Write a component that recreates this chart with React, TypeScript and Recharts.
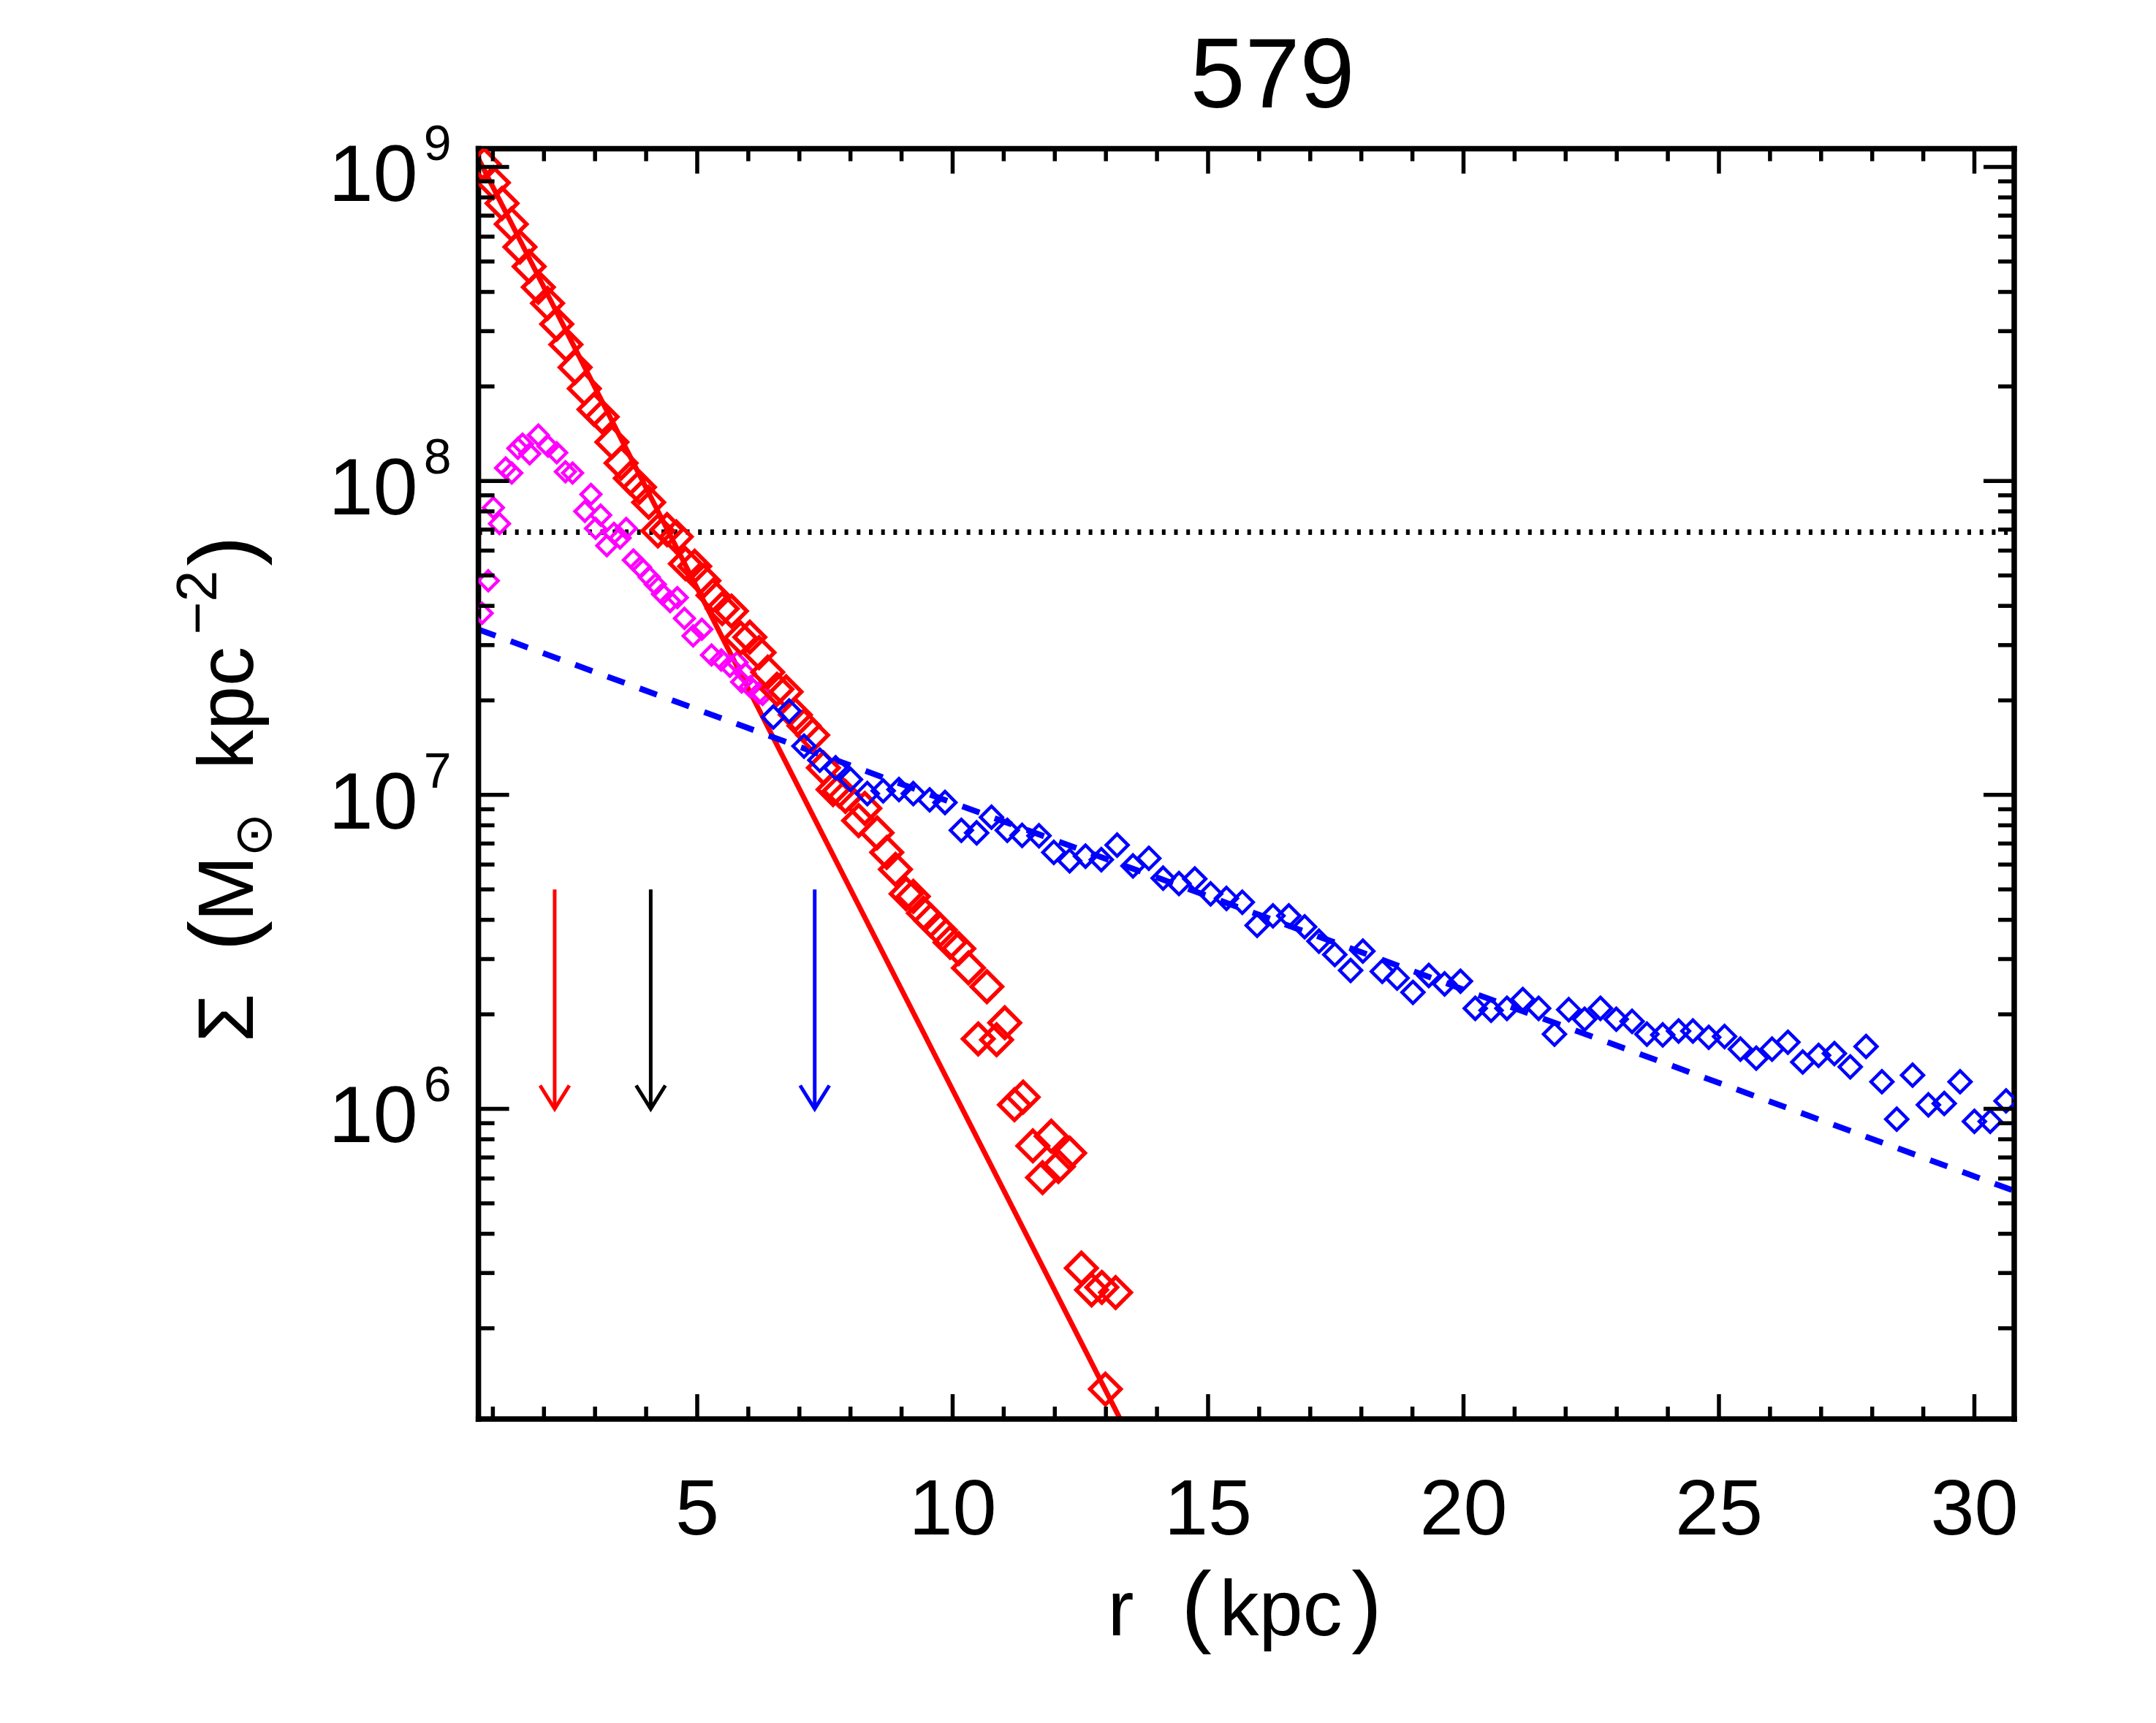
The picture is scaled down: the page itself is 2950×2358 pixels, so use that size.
import React from 'react';
import { ComposedChart, XAxis, YAxis, Scatter, Line, ReferenceLine } from 'recharts';

const W = 2934;
const H = 2342;
const FONT = '"Liberation Sans", Arial, Helvetica, sans-serif';

// ---- axes ----
const xDomain: [number, number] = [0.717, 30.78];
const yDomain: [number, number] = [1.028e5, 1.143e9];
const xTickValues = [1, 2, 3, 4, 5, 6, 7, 8, 9, 10, 11, 12, 13, 14, 15, 16, 17, 18, 19, 20, 21, 22, 23, 24, 25, 26, 27, 28, 29, 30];
const xMajorTicks = [5, 10, 15, 20, 25, 30];
const yDecades = [5, 6, 7, 8, 9];
const yMultipliers = [1, 2, 3, 4, 5, 6, 7, 8, 9];

// ---- data: red diamonds ----
const redR = [0.83, 1.01, 1.18, 1.36, 1.53, 1.71, 1.89, 2.07, 2.25, 2.43, 2.61, 2.79, 2.98, 3.14, 3.33, 3.51, 3.69, 3.87, 4.05, 4.23, 4.41, 4.59, 4.77, 4.95, 5.13, 5.31, 5.49, 5.67, 5.85, 6.03, 6.21, 6.38, 6.56, 6.74, 6.92, 7.09, 7.26, 7.47, 7.66, 7.78, 7.90, 8.16, 8.28, 8.52, 8.71, 8.88, 9.09, 9.23, 9.43, 9.57, 9.76, 9.95, 10.12, 10.31, 10.67, 10.50, 10.86, 11.02, 11.21, 11.38, 11.57, 11.76, 11.93, 12.07, 12.29, 12.52, 12.72, 12.92, 13.19, 12.99];
const redSigma = [1.02e9, 8.91e8, 7.66e8, 6.58e8, 5.56e8, 4.82e8, 4.14e8, 3.68e8, 3.16e8, 2.72e8, 2.30e8, 1.97e8, 1.69e8, 1.60e8, 1.33e8, 1.14e8, 1.02e8, 9.55e7, 8.55e7, 6.93e7, 7.00e7, 6.64e7, 5.45e7, 5.35e7, 4.81e7, 4.32e7, 3.92e7, 3.85e7, 3.16e7, 3.18e7, 2.84e7, 2.46e7, 2.17e7, 2.13e7, 1.80e7, 1.66e7, 1.55e7, 1.22e7, 1.04e7, 1.03e7, 9.89e6, 8.28e6, 9.06e6, 7.57e6, 6.56e6, 5.79e6, 4.84e6, 4.75e6, 4.20e6, 3.98e6, 3.71e6, 3.39e6, 3.24e6, 2.81e6, 2.45e6, 1.67e6, 1.66e6, 1.88e6, 1.03e6, 1.09e6, 7.62e5, 6.04e5, 8.18e5, 6.55e5, 7.23e5, 3.11e5, 2.65e5, 2.70e5, 2.60e5, 1.28e5];

// ---- data: magenta diamonds ----
const magR = [0.79, 0.91, 1.01, 1.13, 1.25, 1.37, 1.49, 1.58, 1.72, 1.89, 2.08, 2.25, 2.42, 2.56, 2.80, 2.92, 3.01, 3.11, 3.23, 3.37, 3.49, 3.61, 3.75, 3.89, 4.06, 4.18, 4.32, 4.47, 4.61, 4.75, 4.92, 5.09, 5.28, 5.47, 5.64, 5.78, 5.87, 5.94, 6.04, 6.21, 6.28];
const magSigma = [3.79e7, 4.81e7, 8.22e7, 7.31e7, 1.10e8, 1.06e8, 1.27e8, 1.31e8, 1.22e8, 1.40e8, 1.29e8, 1.23e8, 1.07e8, 1.06e8, 8.0e7, 9.06e7, 7.06e7, 7.78e7, 6.22e7, 6.81e7, 6.58e7, 7.06e7, 5.60e7, 5.31e7, 4.94e7, 4.68e7, 4.36e7, 4.13e7, 4.25e7, 3.65e7, 3.21e7, 3.37e7, 2.79e7, 2.69e7, 2.57e7, 2.64e7, 2.29e7, 2.44e7, 2.21e7, 2.11e7, 2.09e7];

// ---- data: blue diamonds ----
const blueR = [6.49, 6.80, 7.09, 7.40, 7.71, 8.00, 8.33, 8.64, 8.95, 9.23, 9.55, 9.85, 10.17, 10.47, 10.76, 11.07, 11.36, 11.69, 11.98, 12.29, 12.60, 12.91, 13.22, 13.53, 13.84, 14.12, 14.43, 14.74, 15.05, 15.36, 15.67, 15.96, 16.27, 16.58, 16.89, 17.17, 17.48, 17.79, 18.03, 18.41, 18.70, 19.01, 19.32, 19.63, 19.94, 20.23, 20.54, 20.85, 21.16, 21.47, 21.78, 22.06, 22.37, 22.68, 22.99, 23.30, 23.59, 23.90, 24.21, 24.49, 24.80, 25.11, 25.42, 25.73, 26.04, 26.35, 26.64, 26.95, 27.26, 27.57, 27.88, 28.19, 28.48, 28.79, 29.10, 29.41, 29.72, 30.00, 30.31, 30.62];
const blueSigma = [1.77e7, 1.85e7, 1.43e7, 1.29e7, 1.22e7, 1.12e7, 1.01e7, 1.03e7, 1.04e7, 1.01e7, 9.64e6, 9.46e6, 7.71e6, 7.57e6, 8.49e6, 7.71e6, 7.43e6, 7.41e6, 6.56e6, 6.17e6, 6.38e6, 6.22e6, 6.92e6, 5.94e6, 6.28e6, 5.43e6, 5.22e6, 5.40e6, 4.84e6, 4.68e6, 4.55e6, 3.84e6, 4.12e6, 4.12e6, 3.80e6, 3.42e6, 3.10e6, 2.76e6, 3.18e6, 2.74e6, 2.61e6, 2.35e6, 2.66e6, 2.50e6, 2.55e6, 2.09e6, 2.06e6, 2.09e6, 2.23e6, 2.09e6, 1.73e6, 2.07e6, 1.93e6, 2.09e6, 1.93e6, 1.90e6, 1.73e6, 1.72e6, 1.77e6, 1.77e6, 1.69e6, 1.70e6, 1.55e6, 1.45e6, 1.55e6, 1.63e6, 1.41e6, 1.48e6, 1.50e6, 1.36e6, 1.58e6, 1.22e6, 9.27e5, 1.28e6, 1.03e6, 1.04e6, 1.22e6, 9.12e5, 9.12e5, 1.06e6];

// ---- fits and markers ----
const bulgeFitR = [0.717, 13.28];
const bulgeFitSigma = [1.064e9, 1.028e5];
const diskFitR = [0.717, 30.78];
const diskFitSigma = [3.365e7, 5.48e5];
const dottedLevel = 6.87e7;
const arrowR = [2.21, 4.09, 7.30];
const arrowTop = 5.0e6;
const arrowTip = 1.0e6;
const arrowColors = ['#ff0000', '#000000', '#0000ff'];

const zip = (xs: number[], ys: number[]) =>
  xs.slice(0, Math.min(xs.length, ys.length)).map((x, i) => ({ x, y: ys[i] }));

const redData = zip(redR, redSigma);
const magData = zip(magR, magSigma);
const blueData = zip(blueR, blueSigma);
const bulgeFit = zip(bulgeFitR, bulgeFitSigma);
const diskFit = zip(diskFitR, diskFitSigma);

const yTickValues: number[] = [];
yDecades.forEach((d) => {
  yMultipliers.forEach((m) => {
    const v = m * Math.pow(10, d);
    if (v >= yDomain[0] && v <= yDomain[1]) yTickValues.push(v);
  });
});

const isMajorY = (v: number) => Math.abs(Math.log10(v) - Math.round(Math.log10(v))) < 1e-6;

const TICK_W = 5.5;

const BottomTick = (p: any) => {
  const v = p.payload?.value;
  const major = xMajorTicks.includes(v);
  return (
    <g>
      <line x1={p.x} x2={p.x} y1={p.y} y2={p.y - (major ? 34 : 17)} stroke="#000" strokeWidth={TICK_W} />
      {major ? (
        <text x={p.x} y={p.y + 158} textAnchor="middle" fontFamily={FONT} fontSize={108} fill="#000">
          {v}
        </text>
      ) : null}
    </g>
  );
};

const TopTick = (p: any) => {
  const v = p.payload?.value;
  const major = xMajorTicks.includes(v);
  return <line x1={p.x} x2={p.x} y1={p.y} y2={p.y + (major ? 34 : 17)} stroke="#000" strokeWidth={TICK_W} />;
};

const LeftTick = (p: any) => {
  const v = p.payload?.value;
  const major = isMajorY(v);
  const exp = Math.round(Math.log10(v));
  return (
    <g>
      <line x1={p.x} x2={p.x + (major ? 42 : 22)} y1={p.y} y2={p.y} stroke="#000" strokeWidth={TICK_W} />
      {major ? (
        <text x={p.x - 37} y={p.y + 46} textAnchor="end" fontFamily={FONT} fontSize={110} fill="#000">
          10
          <tspan dx={8} dy={-56} fontSize={68}>
            {exp}
          </tspan>
        </text>
      ) : null}
    </g>
  );
};

const RightTick = (p: any) => {
  const v = p.payload?.value;
  const major = isMajorY(v);
  return <line x1={p.x} x2={p.x - (major ? 42 : 22)} y1={p.y} y2={p.y} stroke="#000" strokeWidth={TICK_W} />;
};

const diamond = (color: string, r: number, sw: number) => (props: any) => {
  const { cx, cy } = props;
  if (cx == null || cy == null || isNaN(cx) || isNaN(cy)) return <g />;
  return (
    <polygon
      points={`${cx},${cy - r} ${cx + r},${cy} ${cx},${cy + r} ${cx - r},${cy}`}
      fill="none"
      stroke={color}
      strokeWidth={sw}
      strokeLinejoin="miter"
    />
  );
};

const arrowHead = (color: string) => (props: any) => {
  const { cx, cy } = props;
  if (cx == null || cy == null || isNaN(cx) || isNaN(cy)) return <g />;
  return (
    <polyline
      points={`${cx - 20},${cy - 32} ${cx},${cy} ${cx + 20},${cy - 32}`}
      fill="none"
      stroke={color}
      strokeWidth={5}
    />
  );
};

const axisLineStyle = { stroke: '#000', strokeWidth: 7.5, strokeLinecap: 'square' as const };

export default function App() {
  return (
    <div style={{ position: 'relative', width: W, height: H, background: '#fff' }}>
      <ComposedChart
        width={W}
        height={H}
        margin={{ top: 194.6, right: 185, bottom: 108, left: 6.6 }}
        style={{ background: '#fff' }}
      >
        <XAxis
          xAxisId="b"
          dataKey="x"
          type="number"
          orientation="bottom"
          domain={xDomain}
          allowDataOverflow
          ticks={xTickValues}
          interval={0}
          tickSize={0}
          tickMargin={0}
          height={300}
          axisLine={axisLineStyle}
          tickLine={false}
          tick={BottomTick}
        />
        <XAxis
          xAxisId="t"
          dataKey="x"
          type="number"
          orientation="top"
          domain={xDomain}
          allowDataOverflow
          ticks={xTickValues}
          interval={0}
          tickSize={0}
          tickMargin={0}
          height={1}
          axisLine={axisLineStyle}
          tickLine={false}
          tick={TopTick}
        />
        <YAxis
          yAxisId="l"
          dataKey="y"
          type="number"
          scale="log"
          orientation="left"
          domain={yDomain}
          allowDataOverflow
          ticks={yTickValues}
          interval={0}
          tickSize={0}
          tickMargin={0}
          width={640}
          axisLine={axisLineStyle}
          tickLine={false}
          tick={LeftTick}
        />
        <YAxis
          yAxisId="r"
          dataKey="y"
          type="number"
          scale="log"
          orientation="right"
          domain={yDomain}
          allowDataOverflow
          ticks={yTickValues}
          interval={0}
          tickSize={0}
          tickMargin={0}
          width={1}
          axisLine={axisLineStyle}
          tickLine={false}
          tick={RightTick}
        />

        <Scatter xAxisId="b" yAxisId="l" data={magData} shape={diamond('#ff00ff', 13.5, 4.5)} isAnimationActive={false} />
        <Scatter xAxisId="b" yAxisId="l" data={redData} shape={diamond('#ff0000', 21, 5.5)} isAnimationActive={false} />
        <Line
          xAxisId="b"
          yAxisId="l"
          data={bulgeFit}
          dataKey="y"
          type="linear"
          stroke="#ff0000"
          strokeWidth={7}
          dot={false}
          activeDot={false}
          isAnimationActive={false}
        />
        <Scatter xAxisId="b" yAxisId="l" data={blueData} shape={diamond('#0000ff', 15, 4.5)} isAnimationActive={false} />
        <Line
          xAxisId="b"
          yAxisId="l"
          data={diskFit}
          dataKey="y"
          type="linear"
          stroke="#0000ff"
          strokeWidth={8}
          strokeDasharray="25 22"
          dot={false}
          activeDot={false}
          isAnimationActive={false}
        />
        <ReferenceLine
          xAxisId="b"
          yAxisId="l"
          y={dottedLevel}
          stroke="#000"
          strokeWidth={7.5}
          strokeDasharray="5 11.7"
        />
        {arrowR.map((r, i) => (
          <ReferenceLine
            key={`shaft-${i}`}
            xAxisId="b"
            yAxisId="l"
            segment={[
              { x: r, y: arrowTop },
              { x: r, y: arrowTip },
            ]}
            stroke={arrowColors[i]}
            strokeWidth={5}
          />
        ))}
        {arrowR.map((r, i) => (
          <Scatter
            key={`head-${i}`}
            xAxisId="b"
            yAxisId="l"
            data={[{ x: r, y: arrowTip }]}
            shape={arrowHead(arrowColors[i])}
            isAnimationActive={false}
          />
        ))}
      </ComposedChart>

      <svg
        width={W}
        height={H}
        style={{ position: 'absolute', left: 0, top: 0, pointerEvents: 'none' }}
      >
        <text x={1733} y={139} textAnchor="middle" fontFamily={FONT} fontSize={135} fill="#000">
          579
        </text>

        <g fontFamily={FONT} fill="#000">
          <text x={1525.5} y={2230} textAnchor="middle" fontSize={108}>r</text>
          <text x={1629} y={2230} textAnchor="middle" fontSize={125}>(</text>
          <text x={1744.5} y={2230} textAnchor="middle" fontSize={108}>kpc</text>
          <text x={1862} y={2230} textAnchor="middle" fontSize={125}>)</text>
        </g>

        <g transform="translate(338,1410) rotate(-90)" fontFamily={FONT} fill="#000">
          <text x={25} y={0} textAnchor="middle" fontSize={108}>Σ</text>
          <text x={137} y={0} textAnchor="middle" fontSize={125}>(</text>
          <text x={202} y={0} textAnchor="middle" fontSize={108}>M</text>
          <text x={275.5} y={25} textAnchor="middle" fontSize={72} fontFamily='"DejaVu Sans", sans-serif'>⊙</text>
          <text x={449} y={0} textAnchor="middle" fontSize={108}>kpc</text>
          <text x={593.5} y={-50} textAnchor="middle" fontSize={77}>−2</text>
          <text x={664} y={0} textAnchor="middle" fontSize={125}>)</text>
        </g>
      </svg>
    </div>
  );
}
